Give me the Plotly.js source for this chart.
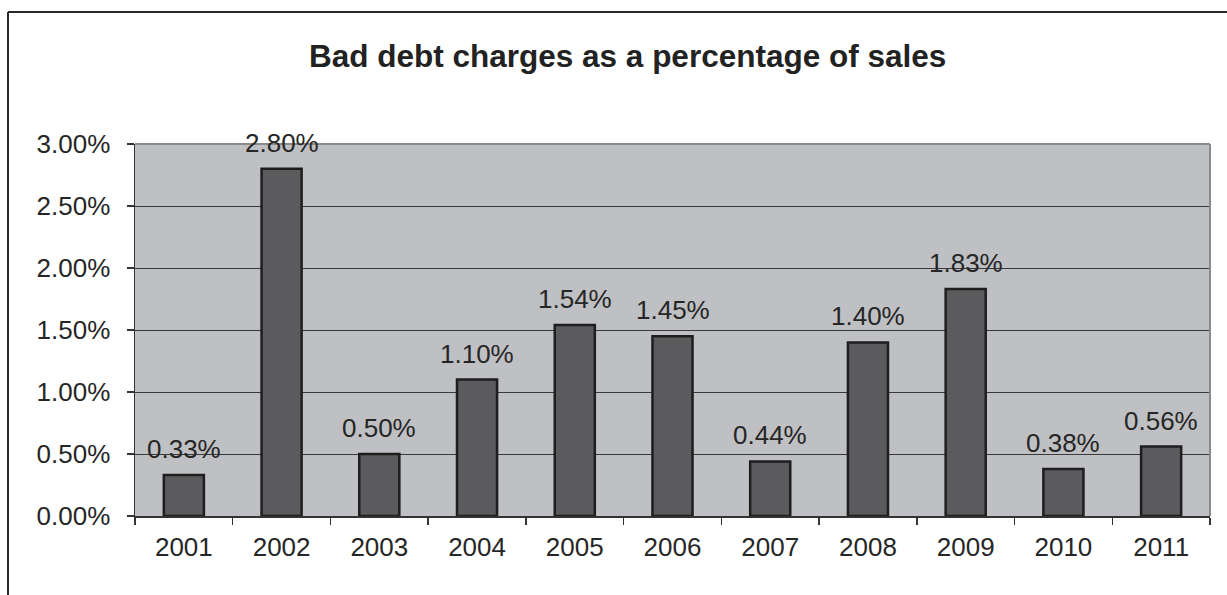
<!DOCTYPE html>
<html>
<head>
<meta charset="utf-8">
<script src="https://cdn.plot.ly/plotly-3.0.1.min.js"></script>
<style>
html,body{margin:0;padding:0;background:#fff;}
#chart{width:1227px;height:595px;}
</style>
</head>
<body>
<div id="chart"></div>
<script>
const years = ["2001","2002","2003","2004","2005","2006","2007","2008","2009","2010","2011"];
const badDebtPct = [0.0033,0.0280,0.0050,0.0110,0.0154,0.0145,0.0044,0.0140,0.0183,0.0038,0.0056];
const yTicks = [0,0.005,0.01,0.015,0.02,0.025,0.03];
const chartTitle = "Bad debt charges as a percentage of sales";

const FONT = "Liberation Sans, Arial, sans-serif";
const L = 135, R = 17, T = 144, B = 79, W = 1227, H = 595;
const pw = W - L - R, ph = H - T - B;

const trace = {
  type: "bar",
  x: years,
  y: badDebtPct,
  marker: {color: "#5b5b5d", line: {color: "#1e1e1e", width: 2.5}},
  width: 0.41,
  hoverinfo: "x+y"
};

const annotations = years.map((yr, i) => ({
  x: i, y: badDebtPct[i], xref: "x", yref: "y",
  text: (badDebtPct[i]*100).toFixed(2) + "%",
  showarrow: false, yanchor: "bottom", yshift: 9,
  font: {family: FONT, size: 26, color: "#262626"}
}));
annotations.push({
  xref: "paper", yref: "paper", x: (627 - L)/pw, y: 1 + (T - 56)/ph,
  text: "<b>" + chartTitle + "</b>", showarrow: false,
  xanchor: "center", yanchor: "middle",
  font: {family: FONT, size: 31.5, color: "#222"}
});

const layout = {
  width: W, height: H,
  margin: {l: L, r: R, t: T, b: B, pad: 0},
  paper_bgcolor: "#ffffff",
  plot_bgcolor: "#bfc0c3",
  showlegend: false,
  bargap: 0.59,
  xaxis: {
    type: "category",
    range: [-0.5, years.length - 0.5],
    tickson: "boundaries",
    ticks: "outside", ticklen: 7, tickwidth: 1.5, tickcolor: "#333",
    showline: true, linecolor: "#333", linewidth: 1.5,
    showgrid: false,
    tickangle: 0,
    tickfont: {family: FONT, size: 26, color: "#262626"},
    ticklabelstandoff: 7,
    fixedrange: true
  },
  yaxis: {
    range: [0, 0.03],
    tickvals: yTicks,
    tickformat: ".2%",
    ticks: "outside", ticklen: 7, tickwidth: 1.5, tickcolor: "#333",
    showline: true, linecolor: "#333", linewidth: 1.5,
    showgrid: true, gridcolor: "#3a3a3a", gridwidth: 1,
    zeroline: false,
    tickfont: {family: FONT, size: 26, color: "#262626"},
    ticklabelstandoff: 11,
    fixedrange: true
  },
  shapes: [
    {type: "line", xref: "paper", yref: "paper", x0: 0, x1: 1, y0: 1, y1: 1, line: {color: "#8a8a8a", width: 2}},
    {type: "line", xref: "paper", yref: "paper", x0: 1, x1: 1, y0: 0, y1: 1, line: {color: "#8a8a8a", width: 2}},
    {type: "line", xref: "paper", yref: "paper", x0: (8 - L)/pw, x1: (8 - L)/pw, y0: 1 + (T - 12)/ph, y1: -(H - T - ph + 10)/ph, line: {color: "#2a2a2a", width: 2}},
    {type: "line", xref: "paper", yref: "paper", x0: (8 - L)/pw, x1: (W + 10 - L)/pw, y0: 1 + (T - 12)/ph, y1: 1 + (T - 12)/ph, line: {color: "#2a2a2a", width: 2}}
  ],
  annotations: annotations
};

Plotly.newPlot("chart", [trace], layout, {displayModeBar: false, staticPlot: true});
</script>
</body>
</html>
